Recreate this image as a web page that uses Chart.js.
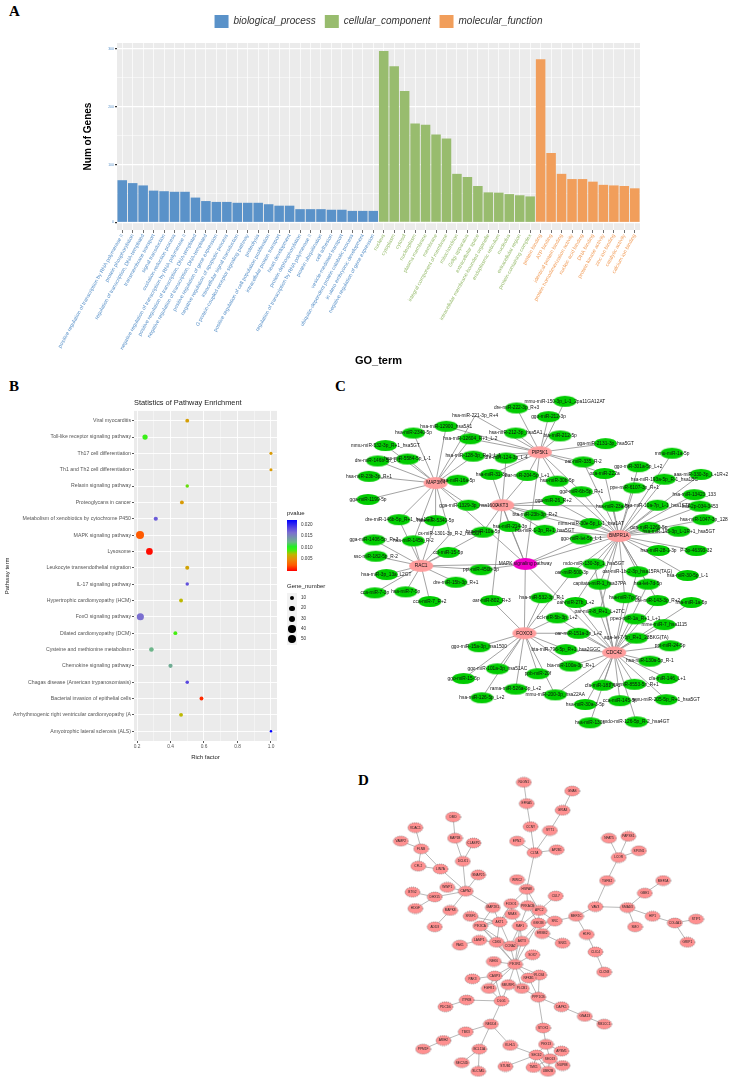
<!DOCTYPE html>
<html>
<head>
<meta charset="utf-8">
<title>Figure</title>
<script src="https://cdn.jsdelivr.net/npm/chart.js@4"></script>
<style>
  body { margin: 0; background: #fff; width: 735px; height: 1086px; position: relative; overflow: hidden; font-family: "Liberation Sans", sans-serif; }
  canvas { position: absolute; display: block; filter: blur(0.35px); }
  .letter { position: absolute; font: bold 15px "Liberation Serif", serif; color: #000; }
  .txt { position: absolute; white-space: nowrap; color: #222; }
  .key { position: absolute; left: 287px; width: 10px; height: 10.4px; background: #f2f2f2; }
  .dot { position: absolute; background: #000; border-radius: 50%; }
</style>
</head>
<body>
<div class="letter" style="left:9px;top:3px">A</div>
<div class="letter" style="left:9px;top:378px">B</div>
<div class="letter" style="left:335px;top:378px">C</div>
<div class="letter" style="left:358px;top:772px">D</div>

<canvas id="goChart" width="735" height="372" style="left:0;top:0"></canvas>
<canvas id="pathwayChart" width="345" height="372" style="left:0;top:394px"></canvas>
<canvas id="mirnaChart" width="400" height="375" style="left:335px;top:375px"></canvas>
<canvas id="ppiChart" width="375" height="326" style="left:360px;top:760px"></canvas>
<div id="pathwayLegend"></div>

<script>
// ---- Panel A: GO terms ----
const bpTerms = ["positive regulation of transcription by RNA polymerase II", "protein phosphorylation", "regulation of transcription, DNA-templated", "transmembrane transport", "signal transduction", "oxidation-reduction process", "negative regulation of transcription by RNA polymerase II", "positive regulation of transcription, DNA-templated", "negative regulation of transcription, DNA-templated", "positive regulation of gene expression", "negative regulation of apoptotic process", "intracellular signal transduction", "G protein-coupled receptor signaling pathway", "proteolysis", "positive regulation of cell population proliferation", "intracellular protein transport", "heart development", "protein dephosphorylation", "regulation of transcription by RNA polymerase II", "protein ubiquitination", "cell adhesion", "vesicle-mediated transport", "ubiquitin-dependent protein catabolic process", "in utero embryonic development", "negative regulation of gene expression"];
const bpValues = [73, 68, 64, 55, 54, 53, 53, 43, 37, 35.5, 35.5, 34, 34, 34, 31.5, 29, 29, 23, 23, 23, 22, 22, 20, 20, 20];
const ccTerms = ["nucleus", "cytoplasm", "cytosol", "nucleoplasm", "plasma membrane", "membrane", "integral component of membrane", "mitochondrion", "Golgi apparatus", "extracellular space", "intracellular membrane-bounded organelle", "endoplasmic reticulum", "nucleolus", "extracellular region", "protein-containing complex"];
const ccValues = [296, 270, 227, 171, 169, 152, 145, 84, 78.5, 63, 52, 51.5, 49, 47, 45];
const mfTerms = ["protein binding", "ATP binding", "identical protein binding", "protein homodimerization activity", "nucleic acid binding", "DNA binding", "protein kinase activity", "zinc ion binding", "catalytic activity", "calcium ion binding"];
const mfValues = [282, 120, 84, 75, 75, 70.5, 65, 64, 63, 59];

// ---- Panel B: pathway enrichment ----
const pathways = ["Viral myocarditis", "Toll-like receptor signaling pathway", "Th17 cell differentiation", "Th1 and Th2 cell differentiation", "Relaxin signaling pathway", "Proteoglycans in cancer", "Metabolism of xenobiotics by cytochrome P450", "MAPK signaling pathway", "Lysosome", "Leukocyte transendothelial migration", "IL-17 signaling pathway", "Hypertrophic cardiomyopathy (HCM)", "FoxO signaling pathway", "Dilated cardiomyopathy (DCM)", "Cysteine and methionine metabolism", "Chemokine signaling pathway", "Chagas disease (American trypanosomiasis)", "Bacterial invasion of epithelial cells", "Arrhythmogenic right ventricular cardiomyopathy (A", "Amyotrophic lateral sclerosis (ALS)"];
const richFactor = [0.5, 0.248, 1, 1, 0.5, 0.468, 0.312, 0.218, 0.274, 0.5, 0.5, 0.463, 0.22, 0.429, 0.286, 0.4, 0.5, 0.585, 0.463, 1];
const geneNumber = [8, 18, 4, 4, 6, 8, 10, 50, 33, 9, 6, 8, 38, 8, 13, 10, 6, 8, 8, 2];
const pValue = [0.006, 0.0095, 0.0058, 0.0058, 0.0085, 0.0058, 0.0175, 0.0025, 0.0003, 0.0062, 0.018, 0.0072, 0.0165, 0.009, 0.0125, 0.013, 0.0185, 0.0012, 0.0072, 0.022];
const pTicks = [0.02, 0.015, 0.01, 0.005];
const sizeTicks = [10, 20, 30, 40, 50];

// ---- Panel C: miRNA network (layout positions) ----
const cNames = ["MAP3K4", "AKT3", "PIP5K1", "BMPR1A", "RAC1", "FOXO3", "CDC42", "MAPK signaling pathway",
  "dre-miR-222-3p_R+3", "hsa-miR-221-3p_R+4", "hsa-miR-12900_hsa5A1", "hsa-miR-212-3p_hsa5A1", "hsa-miR-2340-5p", "hsa-miR-12604_R+1_L-2",
  "mmu-miR-532-3p_R+1_hsa5GT", "hsa-miR-5584-5p_L-1", "dre-miR-146b-5p_L-1", "hsa-miR-128-3p_R+1_L-1", "dre-miR-124-3p_L-4", "hsa-miR-31-3p",
  "oar-miR-204-5p_L+1", "hsa-miR-23b-3p_R+1", "hsa-miR-16a-5p", "gga-miR-1199-5p", "gga-miR-1329-3p_hsa1600", "bta-miR-23b-3p_R+2",
  "hsa-miR-214-3p", "dre-miR-146b-5p_R+1_hsa1GT", "hsa-miR-5340-5p", "hsa-miR-10a-5p", "gga-miR-1406-5p_R+3", "hsa-miR-145b_R-2",
  "ccl-miR-15-5p", "ssc-miR-182-5p_R-2", "hsa-miR-3p_13a_L2GT", "hsa-miR-7-5p", "cca-miR-7-3p", "cca-miR-7_R+2",
  "dre-miR-15b-3p_R+1", "ppt-miR-450b-3p", "oar-miR-802_R+3", "ggo-miR-15a-3p_hsa1500", "ggo-miR-101a-3p_hsa51AC", "ggo-miR-15-5p",
  "rama-miR-526a-3p_L+2", "hsa-miR-126-5p_L+2", "mdo-miR-130-3p_1_hsa5GT", "oar-miR-1b-2-3p_hsa15PA(TAG)", "oar-miR-500-3p", "hsa-miR-30-5p_L-1",
  "capitata-miR-1_hsa37PA", "hsa-let-7d-5p", "hsa-miR-7g-5p", "hsa-miR-532-3p_R-1", "oar-miR-27b_L+2", "dre-miR-143-3p_R+2",
  "hsa-miR-1a-5p", "oar-miR-8_R+1_L+2TC", "ppeo-miR-1a_R+1_L+1", "ccl-miR-5b-3p_L+2", "mme-miR-7_hsa1115", "oar-miR-151a-3p_L+2",
  "aga-let-7-5p_R+1_28BKG(TA)", "ppt-miR-24-5p", "bta-miR-796-5p_R+1_hsa2GGC", "hsa-miR-130a-5p_R-1", "bta-miR-100a-3p_R+1", "ppb-miR-20f",
  "cfa-miR-146_L+1", "cfa-miR-181_L-1", "hsa-miR-8553-5p_R+1", "mmu-miR-200-3p_hsa22AA", "amu-miR-205-5p_R+1_hsa5GT", "cca-miR-145-5p",
  "hsa-miR-30a-3-5p", "hsa-miR-130b", "mdo-miR-126-5p_R-2_hsa4GT", "mmu-miR-150-3p_L-1_2pa11GA12AT", "ggo-miR-212-3p", "bta-miR-212-5p",
  "gga-miR-2131-3p_hsa5GT", "oar-miR-335_R-2", "oca-miR-222a", "mmu-miR-1a-5p", "ggo-miR-301a-5p_L+2", "hsa-miR-193a-5p_R-1_hsa1BC",
  "aaa-miR-330-3p_L+1R+2", "hsa-miR-30b-5p", "ggo-miR-6b-5p_R+1", "ppe-miR-6107-3p_R+1", "gga-miR-26_R+2", "hsa-miR-13423_133",
  "hsa-miR-23a-5p", "hsa-miR-10a-7p_L-1_hsa1ST8", "hsa-2p-034-3453", "mmu-miR-30e-5p_L-1_hsa1AT", "hsa-miR-1047-3p_128", "oca-miR-1260-5p",
  "hsa-miR-145-3p_L-1R+1_hsa5GT", "bta-miR-1-3p_R+1_hsa5GT", "ggo-miR-let-5p_L-1", "hsa-miR-28-1-3p", "P-3p-46393-32", "cs-miR-1301-3p_R-2_hsa5GT"];
const cX = [432, 501, 540, 622, 417, 524, 617, 525,
  516, 473, 443, 515, 409, 468,
  380, 403, 372, 471, 505, 490,
  527, 363, 455, 362, 466, 535,
  509, 394, 432, 481, 368, 409,
  445, 370, 381, 401, 369, 426,
  453, 479, 490, 477, 496, 461,
  515, 480, 596, 641, 573, 693,
  602, 652, 628, 542, 577, 662,
  697, 602, 639, 558, 669, 580,
  640, 675, 567, 654, 572, 538,
  672, 605, 638, 556, 671, 623,
  587, 592, 640, 566, 549, 561,
  608, 585, 607, 677, 642, 669,
  707, 558, 583, 638, 554, 700,
  616, 662, 706, 593, 710, 653,
  684, 545, 583, 663, 702, 447];
const cY = [480, 503, 448, 535, 566, 636, 656, 564,
  402, 410, 421, 428, 428, 434,
  441, 455, 457, 452, 454, 471,
  472, 473, 477, 497, 503, 513,
  525, 518, 519, 531, 539, 540,
  552, 556, 575, 593, 594, 603,
  583, 570, 602, 650, 673, 683,
  694, 703, 564, 572, 573, 576,
  585, 585, 599, 599, 604, 602,
  604, 614, 621, 620, 627, 636,
  641, 649, 653, 665, 670, 678,
  683, 690, 689, 700, 705, 706,
  710, 729, 728, 395, 411, 431,
  439, 458, 470, 449, 463, 476,
  471, 478, 489, 485, 498, 492,
  504, 503, 504, 522, 518, 526,
  530, 529, 538, 550, 550, 533];
// which hubs (by index in cNames) each node is linked to
const cLinks = ["7", "7", "7", "7", "7", "7", "7", "",
  "2", "02", "02", "2", "0", "02",
  "0", "0", "0", "02", "12", "12",
  "12", "0", "0", "0", "01", "13",
  "17", "04", "04", "14", "4", "04",
  "4", "4", "4", "4", "4", "4",
  "4", "47", "15", "5", "5", "5",
  "5", "5", "36", "36", "35", "3",
  "36", "36", "36", "5", "36", "36",
  "6", "36", "6", "56", "6", "56",
  "6", "6", "56", "6", "56", "5",
  "6", "6", "6", "56", "6", "6",
  "6", "6", "6", "2", "2", "2",
  "2", "23", "23", "3", "3", "3",
  "3", "23", "23", "3", "13", "3",
  "13", "3", "3", "13", "3", "3",
  "3", "13", "37", "3", "3", "04"];
const cBare = ["hsa-miR-221-3p_R+4", "cs-miR-1301-3p_R-2_hsa5GT"];

// ---- Panel D: protein interaction network (layout positions) ----
const dNames = ["NLGN1", "GNAS", "EFNA5", "GRIA3", "DMD", "VDAC1", "CCNY", "SYT1", "VAMP2", "MAP1B",
  "CLASP2", "EPN2", "AP2B1", "CLTA", "NFAT5", "PAPSS1", "SPON1", "LCOR", "FLNB", "CFL2",
  "LIN7A", "DCLK1", "SNAP25", "WWC2", "TGFB2", "MEF2A", "HSPA8", "WWP1", "CAPN2", "BTG2",
  "DHX15", "GBE1", "CUL7", "FOXO1", "PRKACB", "MAP2K1", "HDGF", "MAPK8", "VAV3", "SMAD3",
  "APC2", "NRAS", "HIP1", "MEF2C", "SRSF1", "STIP1", "COL4A1", "SRC", "AKT1", "GSK3B",
  "ADD3", "PIK3CA", "RAF1", "SMO", "GRIP1", "H1F0", "ERBB2", "SNX1", "CDK6", "LAMP1",
  "PAK1", "AKT3", "CCNA2", "CLIC4", "SOX7", "NEK6", "PIK3R1", "CLCN3", "PLCB4", "CASP3",
  "PAK3", "NFKB1", "SMURF1", "FGFR1", "PLCB1", "PPP1CB", "DLG1", "ITPKB", "PDCD6", "DAPK1",
  "GNA13", "RB1CC1", "NEDD4", "TBX3", "STOX1", "ARIH2", "PPM1F", "BCL11A", "KLHL5", "PEX13",
  "AP3M1", "SEC62", "SEC63", "SEC24D", "STUB1", "NUP88", "TMX1", "SLC7A5", "UBE2B"];
const dX = [523, 573, 526, 563, 450, 411, 530, 550, 396, 452,
  471, 516, 557, 534, 611, 631, 642, 621, 417, 414,
  437, 460, 476, 516, 609, 667, 526, 444, 463, 408,
  431, 648, 556, 510, 527, 491, 411, 447, 597, 630,
  539, 511, 656, 577, 468, 701, 679, 555, 498, 538,
  431, 478, 519, 638, 692, 588, 542, 563, 495, 477,
  457, 521, 509, 597, 532, 492, 514, 606, 539, 493,
  470, 528, 507, 487, 521, 538, 500, 464, 442, 562,
  586, 606, 489, 463, 543, 440, 419, 477, 509, 546,
  562, 536, 550, 459, 504, 563, 533, 476, 548];
const dY = [777, 786, 799, 806, 813, 824, 823, 827, 838, 835,
  840, 838, 847, 850, 835, 833, 848, 855, 846, 864,
  867, 859, 873, 878, 879, 879, 888, 886, 890, 891,
  896, 892, 895, 903, 905, 907, 908, 910, 906, 907,
  910, 914, 916, 916, 916, 919, 923, 921, 922, 923,
  927, 926, 926, 927, 943, 935, 934, 944, 943, 941,
  946, 942, 947, 953, 956, 963, 966, 974, 977, 978,
  981, 980, 987, 991, 991, 1000, 1004, 1003, 1010, 1010,
  1020, 1028, 1028, 1036, 1032, 1045, 1054, 1054, 1050, 1049,
  1056, 1060, 1064, 1068, 1072, 1071, 1073, 1077, 1077];
const dEdges = [[0,2],[2,6],[6,13],[1,3],[3,7],[7,13],[11,13],[12,13],[13,26],[26,33],[26,34],[26,40],
  [4,9],[9,21],[10,21],[21,28],[22,28],[27,28],[28,30],[30,29],[30,36],[28,37],[28,35],[5,18],[8,18],
  [18,19],[18,20],[19,20],[20,28],[37,50],[14,17],[15,17],[16,17],[17,24],[24,38],[38,39],[39,31],
  [31,25],[39,42],[39,53],[42,46],[46,45],[46,54],[43,38],[43,47],[47,40],[43,55],[55,63],[63,67],
  [44,48],[33,48],[35,48],[35,51],[33,41],[41,51],[41,52],[34,52],[34,49],[40,52],[40,49],[32,40],
  [48,51],[48,58],[51,58],[51,62],[52,61],[52,62],[49,61],[49,56],[47,56],[56,57],[47,49],[48,62],
  [58,59],[59,60],[58,66],[61,66],[62,66],[64,66],[65,66],[51,66],[52,66],[49,66],[66,69],[66,68],
  [66,71],[66,72],[66,74],[66,73],[69,70],[69,73],[69,76],[72,76],[73,76],[74,75],[71,75],[68,75],
  [75,79],[75,84],[79,80],[80,81],[76,77],[77,78],[76,82],[82,83],[83,85],[85,86],[82,87],[82,88],
  [87,93],[87,97],[88,91],[84,89],[89,90],[89,91],[89,92],[91,92],[91,94],[92,95],[92,96],[92,98],[91,96],[91,98],[90,92]];

// ---- colours ----
const bpColor = "#5A92C9";
const ccColor = "#98BC6E";
const mfColor = "#F19E5B";
const pStops = [[0, "#FF0000"], [0.0025, "#FF5A00"], [0.005, "#E98A0A"], [0.0072, "#BDB800"], [0.009, "#44EE11"], [0.0105, "#22F022"], [0.0125, "#6DB58A"], [0.0165, "#7B6FD0"], [0.0185, "#5A48E0"], [0.022, "#0000FF"]];

function pColor(p) {
  for (let i = 1; i < pStops.length; i++) {
    if (p <= pStops[i][0]) {
      const t = (p - pStops[i - 1][0]) / (pStops[i][0] - pStops[i - 1][0]);
      const a = pStops[i - 1][1], b = pStops[i][1];
      const mix = s => Math.round(parseInt(a.substr(s, 2), 16) * (1 - t) + parseInt(b.substr(s, 2), 16) * t);
      return `rgb(${mix(1)},${mix(3)},${mix(5)})`;
    }
  }
  return "#0000FF";
}
const sizeOf = n => 0.55 + 0.49 * Math.sqrt(n);

// ---- shared plugins ----
Chart.defaults.font.family = '"Liberation Sans", sans-serif';
Chart.defaults.animation = false;
Chart.defaults.events = [];
Chart.defaults.plugins.tooltip.enabled = false;

const panelBg = {
  id: "panelBg",
  beforeDraw(chart) {
    const a = chart.chartArea;
    chart.ctx.save();
    chart.ctx.fillStyle = "#EBEBEB";
    chart.ctx.fillRect(a.left, a.top, a.right - a.left, a.bottom - a.top);
    chart.ctx.restore();
  }
};

// extra room between the legend and the plot, same gap as in the figure
const legendGap = {
  id: "legendGap",
  beforeInit(chart) {
    const fit = chart.legend.fit;
    chart.legend.fit = function () {
      fit.call(this);
      this.height += 5;
    };
  }
};

// draws node names on top of the ellipses
const nodeLabels = {
  id: "nodeLabels",
  afterDatasetsDraw(chart) {
    const ctx = chart.ctx;
    ctx.save();
    ctx.textAlign = "center";
    ctx.textBaseline = "middle";
    chart.data.datasets.forEach((ds, d) => {
      if (!ds.nodeNames) return;
      const pts = chart.getDatasetMeta(d).data;
      ds.nodeNames.forEach((name, i) => {
        ctx.font = ds.labelFont;
        ctx.fillStyle = ds.labelColor;
        ctx.fillText(name, pts[i].x, pts[i].y);
      });
    });
    ctx.restore();
  }
};

function ellipseSprite(w, h, fill, stroke) {
  const c = document.createElement("canvas");
  c.width = w + 2;
  c.height = h + 2;
  const g = c.getContext("2d");
  g.beginPath();
  g.ellipse(c.width / 2, c.height / 2, w / 2, h / 2, 0, 0, Math.PI * 2);
  g.fillStyle = fill;
  g.fill();
  if (stroke) {
    g.setLineDash([1, 1]);
    g.lineWidth = 0.5;
    g.strokeStyle = stroke;
    g.stroke();
  }
  return c;
}

// ---- Panel A chart ----
const goLabels = [...bpTerms, ...ccTerms, ...mfTerms];
const goLabelColors = [...bpTerms.map(() => bpColor), ...ccTerms.map(() => ccColor), ...mfTerms.map(() => mfColor)];
const pad = n => Array(n).fill(null);

new Chart(document.getElementById("goChart"), {
  type: "bar",
  data: {
    labels: goLabels,
    datasets: [
      { label: "biological_process", data: bpValues, backgroundColor: bpColor },
      { label: "cellular_component", data: [...pad(bpTerms.length), ...ccValues], backgroundColor: ccColor },
      { label: "molecular_function", data: [...pad(bpTerms.length + ccTerms.length), ...mfValues], backgroundColor: mfColor }
    ]
  },
  options: {
    responsive: false,
    datasets: { bar: { grouped: false, barPercentage: 0.91, categoryPercentage: 1 } },
    layout: { padding: { top: 6, left: 82, right: 95, bottom: 4 } },
    plugins: {
      legend: {
        fullSize: false,
        labels: { boxWidth: 14, boxHeight: 13, padding: 9, color: "#333", font: { size: 10, style: "italic" } }
      }
    },
    scales: {
      x: {
        type: "category",
        border: { display: false },
        grid: { color: "#fff", lineWidth: 0.7, offset: false, tickColor: "#333", tickLength: 3 },
        ticks: {
          autoSkip: false,
          minRotation: 61,
          maxRotation: 61,
          padding: 0,
          font: { size: 5.2 },
          color: ctx => goLabelColors[ctx.index]
        },
        title: { display: true, text: "GO_term", color: "#000", font: { size: 11, weight: "bold" }, padding: 0 },
        afterFit(s) { s.height = 138; }
      },
      y: {
        min: -13,
        max: 310,
        border: { display: false },
        grid: {
          color: "#fff",
          lineWidth: ctx => ctx.tick.value % 100 === 0 ? 1.2 : 0.5,
          tickColor: ctx => ctx.tick.value % 100 === 0 ? "#333" : "transparent",
          tickLength: 2
        },
        ticks: {
          stepSize: 50,
          includeBounds: false,
          autoSkip: false,
          padding: 1,
          font: { size: 3.5 },
          color: bpColor,
          callback: v => v % 100 === 0 ? String(v) : ""
        },
        title: { display: true, text: "Num of Genes", color: "#000", font: { size: 10, weight: "bold" }, padding: 0 },
        afterFit(s) { s.width = 35; }
      }
    }
  },
  plugins: [panelBg, legendGap]
});

// ---- Panel B chart ----
new Chart(document.getElementById("pathwayChart"), {
  type: "bubble",
  data: {
    datasets: [{
      data: pathways.map((p, i) => ({ x: richFactor[i], y: i, r: sizeOf(geneNumber[i]) })),
      backgroundColor: pValue.map(pColor),
      borderWidth: 0
    }]
  },
  options: {
    responsive: false,
    layout: { padding: { top: 5, left: 4, right: 68, bottom: 5 } },
    plugins: {
      legend: { display: false },
      title: {
        display: true,
        text: "Statistics of Pathway Enrichment",
        align: "start",
        fullSize: false,
        color: "#222",
        font: { size: 7.4, weight: "normal" },
        padding: { top: 0, bottom: 3 }
      }
    },
    scales: {
      x: {
        min: 0.182,
        max: 1.036,
        border: { display: false },
        grid: {
          color: "#fff",
          lineWidth: ctx => Math.round(ctx.tick.value * 10) % 2 === 0 ? 0.9 : 0.4,
          tickColor: ctx => Math.round(ctx.tick.value * 10) % 2 === 0 ? "#444" : "transparent",
          tickLength: 2
        },
        ticks: {
          stepSize: 0.1,
          includeBounds: false,
          autoSkip: false,
          maxRotation: 0,
          padding: 1,
          font: { size: 4.8 },
          color: "#555",
          callback: v => Math.round(v * 10) % 2 === 0 ? v.toFixed(1) : ""
        },
        title: { display: true, text: "Rich factor", color: "#222", font: { size: 6 }, padding: 0 },
        afterFit(s) { s.height = 20; }
      },
      y: {
        reverse: true,
        min: -0.6,
        max: 19.6,
        border: { display: false },
        grid: { color: "#fff", lineWidth: 0.9, tickColor: "#444", tickLength: 2 },
        ticks: {
          stepSize: 1,
          includeBounds: false,
          autoSkip: false,
          padding: 1,
          font: { size: 5.2 },
          color: "#555",
          callback: v => pathways[v]
        },
        title: { display: true, text: "Pathway term", color: "#222", font: { size: 6 }, padding: 0 },
        afterFit(s) { s.width = 130; }
      }
    }
  },
  plugins: [panelBg]
});

// legend of panel B: colour bar and size key
(function () {
  const box = document.getElementById("pathwayLegend");
  let html = '<div class="txt" style="left:287px;top:510px;font-size:6px">pvalue</div>';
  const grad = pStops.map(s => `${s[1]} ${(100 - s[0] / 0.022 * 100).toFixed(1)}%`).reverse().join(",");
  html += `<div style="position:absolute;left:287px;top:520px;width:10px;height:51px;background:linear-gradient(to bottom,${grad})"></div>`;
  pTicks.forEach(p => {
    const y = 570.5 - p / 0.022 * 50.5;
    html += `<div class="txt" style="left:301px;top:${y - 3}px;font-size:4.6px;line-height:6px;color:#333">${p.toFixed(3)}</div>`;
  });
  html += '<div class="txt" style="left:287px;top:583px;font-size:6px">Gene_number</div>';
  sizeTicks.forEach((n, i) => {
    const y = 593 + i * 10.3;
    const r = sizeOf(n);
    html += `<div class="key" style="top:${y}px"></div>`;
    html += `<div class="dot" style="left:${292 - r}px;top:${y + 5.2 - r}px;width:${2 * r}px;height:${2 * r}px"></div>`;
    html += `<div class="txt" style="left:301px;top:${y + 2}px;font-size:4.6px;line-height:6px;color:#333">${n}</div>`;
  });
  box.innerHTML = html;
})();

// ---- network helpers ----
function edgePoints(xs, ys, pairs) {
  const pts = [];
  pairs.forEach(([a, b]) => {
    pts.push({ x: xs[a], y: ys[a] }, { x: xs[b], y: ys[b] }, { x: null, y: null });
  });
  return pts;
}

function networkChart(id, x0, x1, y0, y1, nodeSet, edgeSet) {
  return new Chart(document.getElementById(id), {
    type: "scatter",
    data: { datasets: [nodeSet, edgeSet] },
    options: {
      responsive: false,
      plugins: { legend: { display: false } },
      scales: {
        x: { display: false, min: x0, max: x1 },
        y: { display: false, min: y0, max: y1, reverse: true }
      }
    },
    plugins: [nodeLabels]
  });
}

// ---- Panel C chart ----
const cPairs = [];
cLinks.forEach((links, i) => {
  for (const h of links) cPairs.push([i, Number(h)]);
});
const greenNode = ellipseSprite(23, 11, "#00CC00");
const hubNode = ellipseSprite(24, 12, "#FF9C9C");
const pathNode = ellipseSprite(24, 12, "#F000C8");

networkChart("mirnaChart", 335, 735, 375, 750,
  {
    data: cNames.map((n, i) => ({ x: cX[i], y: cY[i] })),
    nodeNames: cNames,
    labelFont: '4.8px "Liberation Sans"',
    labelColor: "#111",
    order: 0,
    pointStyle: ctx => ctx.dataIndex < 7 ? hubNode : ctx.dataIndex === 7 ? pathNode : greenNode,
    pointRadius: ctx => cBare.includes(cNames[ctx.dataIndex]) ? 0 : 6
  },
  {
    data: edgePoints(cX, cY, cPairs),
    showLine: true,
    spanGaps: false,
    borderColor: "#8C8C8C",
    borderWidth: 0.8,
    pointRadius: 0,
    order: 1
  });

// ---- Panel D chart ----
const pinkNode = ellipseSprite(15, 10, "#FF9090", "#444");

networkChart("ppiChart", 360, 735, 760, 1086,
  {
    data: dNames.map((n, i) => ({ x: dX[i], y: dY[i] })),
    nodeNames: dNames,
    labelFont: '3.2px "Liberation Sans"',
    labelColor: "#222",
    order: 0,
    pointStyle: pinkNode,
    pointRadius: 5
  },
  {
    data: edgePoints(dX, dY, dEdges),
    showLine: true,
    spanGaps: false,
    borderColor: "#888",
    borderWidth: 0.6,
    pointRadius: 0,
    order: 1
  });
</script>
</body>
</html>
